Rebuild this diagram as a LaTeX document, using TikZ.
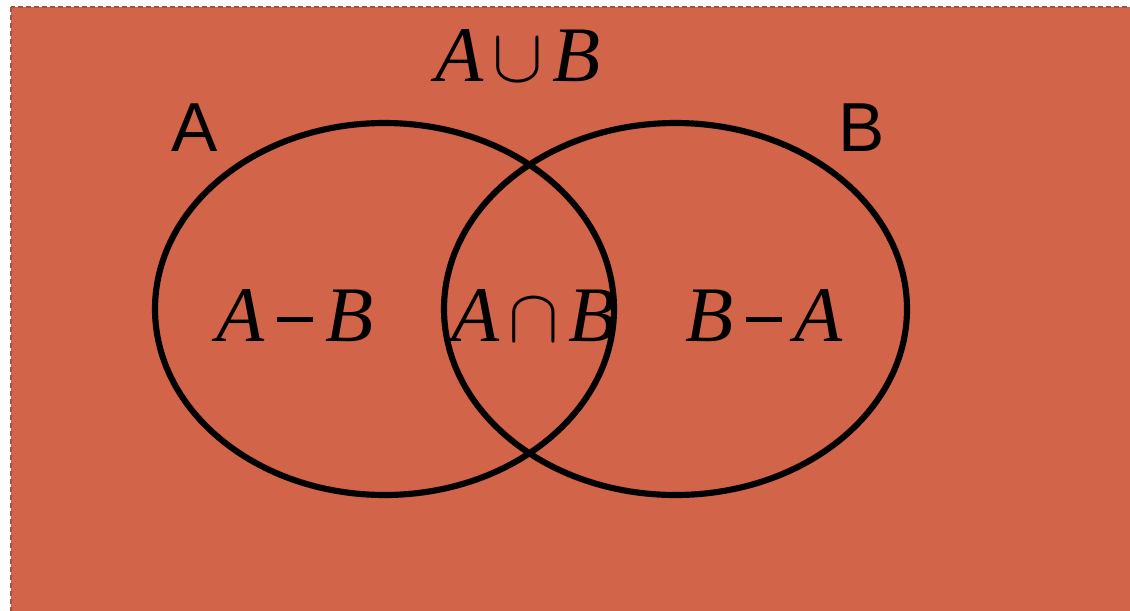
\documentclass[tikz,border=0pt]{standalone}
\usepackage{fontspec}
\usepackage{graphicx}
\setmainfont{Liberation Serif}
\newfontfamily\labfont{Liberation Sans}
\definecolor{bgfill}{RGB}{210,100,74}
\definecolor{bgedge}{RGB}{165,80,62}
\newcommand{\bigcupsym}{\hspace{7pt}\scalebox{5.7}{\fontsize{10}{12}\selectfont$\cup$}\hspace{7pt}}
\newcommand{\bigcapsym}{\hspace{7pt}\scalebox{5.7}{\fontsize{10}{12}\selectfont$\cap$}\hspace{7pt}}
\newcommand{\bigminussym}{\hspace{9pt}\rule[14.7pt]{27pt}{3.6pt}\hspace{9pt}}
\tikzset{
  setring/.style={draw=black,line width=4.6pt},
  setname/.style={font=\labfont\fontsize{52}{52}\selectfont,inner sep=0pt},
  region/.style={font=\fontsize{59}{59}\selectfont\itshape,inner sep=0pt}
}
\begin{document}
\begin{tikzpicture}[x=0.75pt,y=-0.75pt]
\useasboundingbox (0,0) rectangle (1130,610);
\fill[white] (0,0) rectangle (1130,610);
\draw[fill=bgfill,draw=bgedge,line width=1.2pt,dash pattern=on 4pt off 2pt] (11,7) rectangle (1140,620);
\draw[setring] (384.5,309) ellipse [x radius=229.5*0.75pt, y radius=186*0.75pt];
\draw[setring] (675.5,309) ellipse [x radius=231.5*0.75pt, y radius=186*0.75pt];
\node[setname] (la) at (195,128) {A};
\node[setname] (lb) at (862,128) {B};
\node[region] (union) at (518,56) {A\bigcupsym B};
\node[region] (diffab) at (295,316) {A\bigminussym B};
\node[region] (inter) at (534,316) {A\bigcapsym B};
\node[region] (diffba) at (764,316) {B\bigminussym A};
\end{tikzpicture}
\end{document}
